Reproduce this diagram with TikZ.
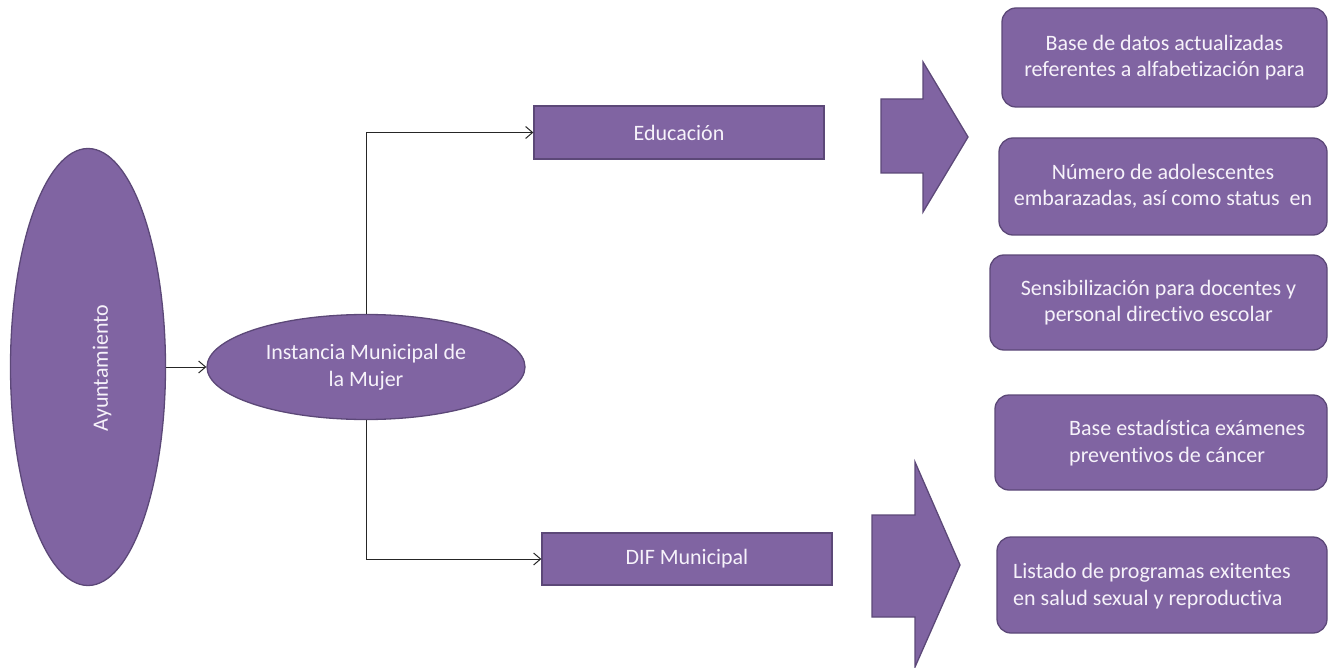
\documentclass[tikz,border=0pt]{standalone}
\usepackage{fontspec}
\setmainfont{Carlito}[Ligatures=NoCommon]
\usetikzlibrary{shapes.geometric,arrows.meta}
\definecolor{pfill}{HTML}{8064A2}
\definecolor{pline}{HTML}{5C4878}
\definecolor{ptext}{HTML}{F6F2FA}
\tikzset{
  base/.style={fill=pfill,draw=pline,line width=1.3pt,text=ptext,font=\fontsize{22}{26.5}\selectfont,inner sep=0pt,align=center},
  oval/.style={base,ellipse},
  rectbox/.style={base,rectangle},
  roundbox/.style={base,rectangle,rounded corners=14pt},
  txt/.style={text=ptext,font=\fontsize{22}{26.5}\selectfont,inner sep=0pt,align=left},
  conn/.style={draw=black!85,line width=1pt,-{Straight Barb[length=7pt,width=12pt]}},
  bigarrow/.style={fill=pfill,draw=pline,line width=1.3pt,line join=miter}
}
\begin{document}
\begin{tikzpicture}[x=1pt,y=-1pt]
\useasboundingbox (0,0) rectangle (1329,668);
% ellipses
\node[oval,minimum width=155pt,minimum height=437pt] (ayu) at (88,367) {};
\node[txt,rotate=90] (ayut) at (102,368) {Ayuntamiento};
\node[oval,minimum width=318pt,minimum height=105pt] (inst) at (366,367) {Instancia Municipal de\\la Mujer};
% rect boxes
\node[rectbox,minimum width=290pt,minimum height=53pt] (edu) at (679,132.5) {Educación};
\node[rectbox,minimum width=290pt,minimum height=52pt] (dif) at (687,559) {DIF Municipal};
% connectors
\draw[conn] (ayu.east) -- (inst.west);
\draw[conn] (inst.north) |- (edu.west);
\draw[conn] (inst.south) |- (dif.west);
% big arrows
\draw[bigarrow] (881,99) -- (923,99) -- (923,62) -- (968,137) -- (923,212) -- (923,173) -- (881,173) -- cycle;
\draw[bigarrow] (872,515) -- (915,515) -- (915,462) -- (960,565) -- (915,667) -- (915,617) -- (872,617) -- cycle;
% rounded boxes
\node[roundbox,minimum width=325pt,minimum height=99pt] (b1) at (1164.5,57.5) {Base de datos actualizadas\\referentes a alfabetización para};
\node[roundbox,minimum width=328pt,minimum height=97pt] (b2) at (1163,186.5) {Número de adolescentes\\embarazadas, así como status~ en};
\node[roundbox,minimum width=337pt,minimum height=95pt] (b3) at (1158.5,302.5) {Sensibilización para docentes y\\personal directivo escolar};
\node[roundbox,minimum width=332pt,minimum height=95pt] (b4) at (1161,442.5) {};
\node[txt,anchor=west] (b4t) at (1069,443) {Base estadística exámenes\\preventivos de cáncer};
\node[roundbox,minimum width=330pt,minimum height=96pt] (b5) at (1162,585) {};
\node[txt,anchor=west] (b5t) at (1013,586) {Listado de programas exitentes\\en salud sexual y reproductiva};
\end{tikzpicture}
\end{document}
